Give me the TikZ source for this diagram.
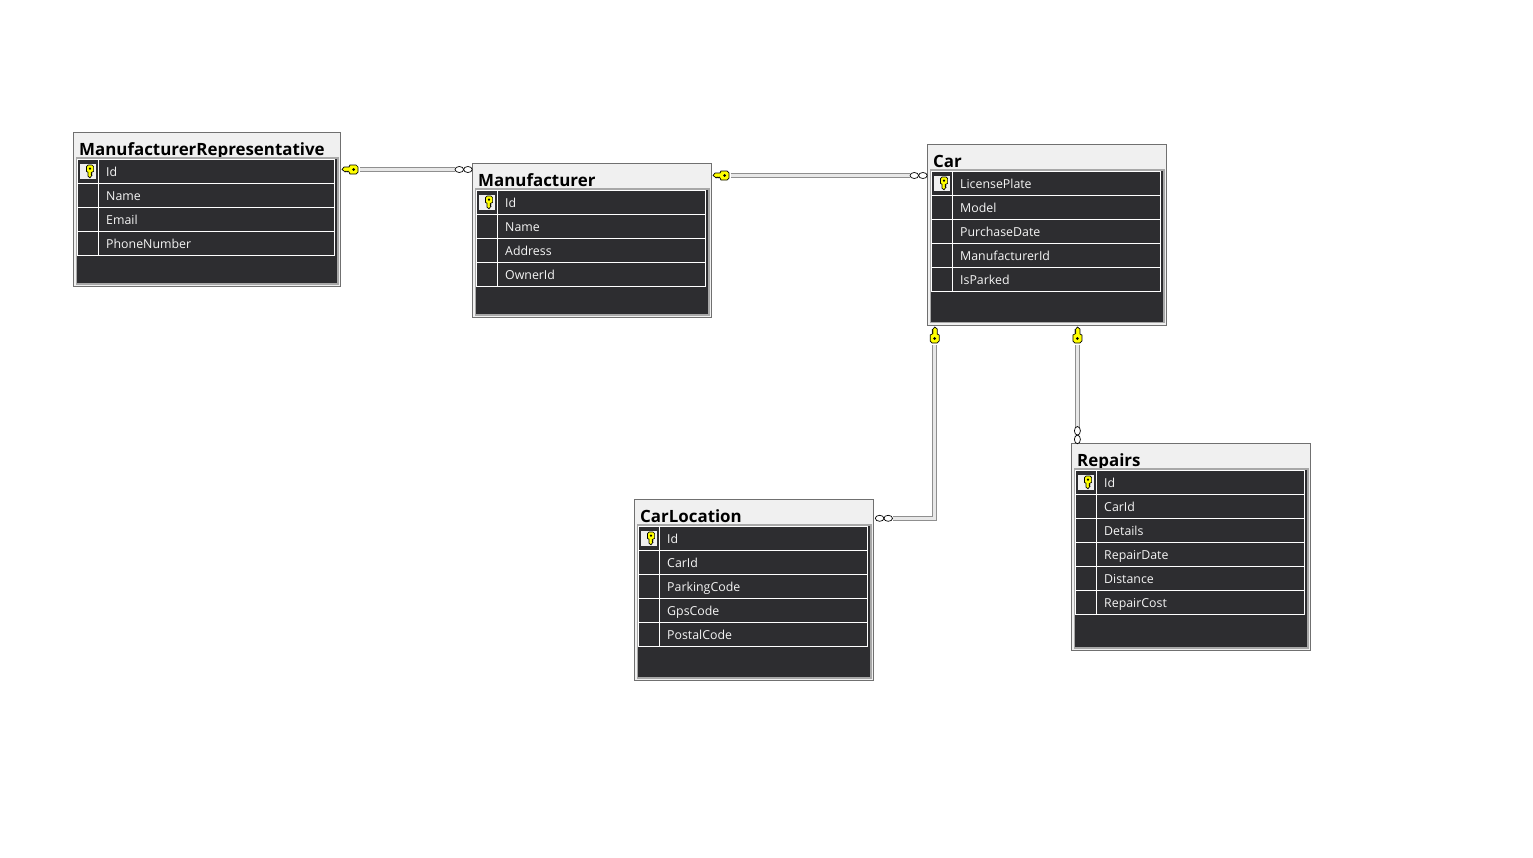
\documentclass[tikz,border=0pt]{standalone}
\usepackage{fontspec}
\setmainfont{Open Sans}
\definecolor{tableedge}{HTML}{707070}
\definecolor{tablefill}{HTML}{F0F0F0}
\definecolor{gridedge}{HTML}{A8A8A8}
\definecolor{griddark}{HTML}{2D2D30}
\definecolor{keyyellow}{HTML}{FFFF00}
\definecolor{linkedge}{HTML}{8F8F8F}
\definecolor{linkfill}{HTML}{E8E8E8}
\tikzset{
  tablebox/.style={
    draw=tableedge,
    fill=tablefill,
    line width=1pt
  },
%
  gridbody/.style={
    draw=gridedge,
    fill=griddark,
    line width=1.5pt
  },
%
  gridline/.style={
    draw=white,
    line width=1pt
  },
%
  tabletitle/.style={
    anchor=base west,
    inner sep=0,
    font=\bfseries\fontsize{16.9}{20}\selectfont,
    text=black
  },
%
  fieldname/.style={
    anchor=base west,
    inner sep=0,
    font=\fontsize{12.35}{14}\selectfont,
    text=white!96!black
  },
%
  keycell/.style={
    fill=tablefill,
    draw=none
  },
%
  link/.style={
    draw=linkedge,
    double=linkfill,
    double distance=2.5pt,
    line width=1pt,
    line join=miter
  },
%
  keyglyph/.pic={
    \draw[fill=keyyellow,draw=black,line width=0.7pt]
      (-16,0) -- (-14,-2.5) -- (-9,-2.5) -- (-8,-4.5) -- (-2,-4.5) -- (0,-2.5) -- (0,2.5) -- (-2,4.5) -- (-8,4.5)
      -- (-9,2.5) -- (-10,1.5) -- (-11,2.5) -- (-12,1.5) -- (-13,2.5) -- (-14,1.5) -- cycle;
    \fill[black] (-4.5,0) circle (1.5);
  },
%
  infmark/.pic={
    \draw[fill=white,draw=black,line width=0.7pt] (4.3,0) ellipse (4.3 and 3);
    \draw[fill=white,draw=black,line width=0.7pt] (12.9,0) ellipse (4.3 and 3);
  },
}

% name, left, top, width, height, title, fields
\newcommand{\dbtable}[7]{
  \draw[tablebox] (#2,#3) rectangle ++(#4,#5);
  \node[tabletitle] (#1title) at (#2+5.5,#3+22.7) {#6};
  \draw[gridbody] (#2+2.75,#3+25.5) rectangle (#2+#4-2.75,#3+#5-2.5);
  \foreach \fld [count=\i from 0] in {#7} {
    \draw[gridline] (#2+4,#3+27+24*\i) rectangle (#2+#4-6.5,#3+51+24*\i);
    \draw[gridline] (#2+25,#3+27+24*\i) -- (#2+25,#3+51+24*\i);
    \node[fieldname] (#1f\i) at (#2+32.5,#3+43.5+24*\i) {\fld};
  }
  \fill[keycell] (#2+6.5,#3+31.5) rectangle (#2+22.5,#3+46.5);
  \path (#2+16.5,#3+32.5) pic[rotate=90,scale=0.8] {keyglyph};
}

\begin{document}
\begin{tikzpicture}[x=1pt,y=-1pt]
\useasboundingbox (0,0) rectangle (1533,857);

\dbtable{rep}{73.5}{132.5}{267}{154}{ManufacturerRepresentative}{Id,Name,Email,PhoneNumber}
\dbtable{man}{472.5}{163.5}{239}{154}{Manufacturer}{Id,Name,Address,OwnerId}
\dbtable{car}{927.5}{144.5}{239}{180.5}{Car}{LicensePlate,Model,PurchaseDate,ManufacturerId,IsParked}
\dbtable{loc}{634.5}{499.5}{239}{181}{CarLocation}{Id,CarId,ParkingCode,GpsCode,PostalCode}
\dbtable{rpr}{1071.5}{443.5}{239}{207}{Repairs}{Id,CarId,Details,RepairDate,Distance,RepairCost}

\coordinate (repkey) at (358,169.5);
\coordinate (maninf) at (455,169.5);
\coordinate (mankey) at (729,175.5);
\coordinate (carinf) at (910,175.5);
\coordinate (lockey) at (934.7,343);
\coordinate (locbend) at (934.7,518.3);
\coordinate (locinf) at (892.5,518.3);
\coordinate (rprkey) at (1077.4,343);
\coordinate (rprinf) at (1077.4,426.5);

\draw[link] (repkey) ++(1.5,0) -- (maninf);
\draw[link] (mankey) ++(1.5,0) -- (carinf);
\draw[link] (lockey) ++(0,1.5) -- (locbend) -- (locinf);
\draw[link] (rprkey) ++(0,1.5) -- (rprinf);

\path (repkey) pic {keyglyph};
\path (mankey) pic {keyglyph};
\path (lockey) pic[rotate=-90] {keyglyph};
\path (rprkey) pic[rotate=-90] {keyglyph};

\path (maninf) pic {infmark};
\path (carinf) pic {infmark};
\path (locinf) pic[rotate=180] {infmark};
\path (rprinf) pic[rotate=-90] {infmark};

\end{tikzpicture}
\end{document}
